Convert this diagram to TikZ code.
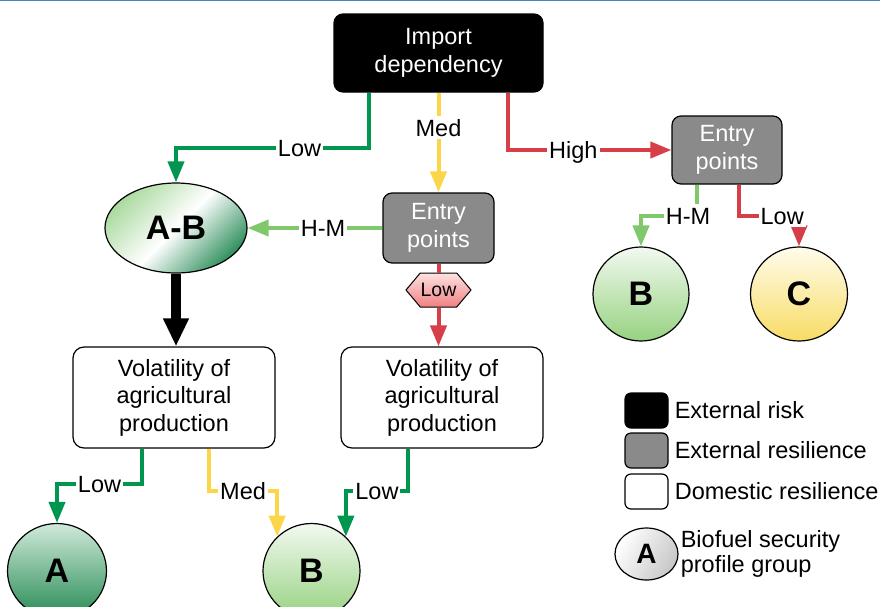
\documentclass[tikz,border=0pt]{standalone}
\usepackage{fontspec}
\setmainfont{Liberation Sans}
\usetikzlibrary{calc,positioning,arrows.meta,shapes.geometric,shapes.symbols}
\definecolor{lowgreen}{RGB}{0,150,80}
\definecolor{hmgreen}{RGB}{128,200,108}
\definecolor{medyellow}{RGB}{250,214,72}
\definecolor{highred}{RGB}{214,62,72}
\definecolor{boxgray}{RGB}{138,138,138}
\definecolor{topblue}{RGB}{74,132,198}
\definecolor{abtop}{RGB}{172,218,160}
\definecolor{abbot}{RGB}{50,145,95}
\definecolor{gatop}{RGB}{208,234,218}
\definecolor{gabot}{RGB}{38,138,84}
\definecolor{gbtop}{RGB}{242,249,240}
\definecolor{gbbot}{RGB}{150,210,128}
\definecolor{gctop}{RGB}{255,252,236}
\definecolor{gcbot}{RGB}{248,220,100}
\definecolor{hextop}{RGB}{253,226,226}
\definecolor{hexbot}{RGB}{240,128,128}
\tikzset{
  conn/.style={line width=4pt, -{Triangle[length=21pt,width=16pt]}},
  lbl/.style={fill=white, text=black, inner xsep=2pt, inner ysep=3pt, text height=17pt, text depth=0pt},
  darkbox/.style={draw=black, line width=1.2pt, rounded corners=9pt, fill=black, text=white, align=center, inner sep=0pt},
  greybox/.style={darkbox, fill=boxgray, minimum width=111, minimum height=70},
  volbox/.style={draw=black, line width=1.2pt, rounded corners=11pt, fill=white, align=center, inner sep=0pt, minimum width=202, minimum height=101},
  group/.style={ellipse, draw=black, line width=1.2pt, inner sep=0pt, font=\fontsize{34}{34}\selectfont\bfseries},
  keybox/.style={darkbox, rounded corners=6pt, minimum width=43, minimum height=35},
  keytext/.style={inner sep=0pt, anchor=west},
}

\begin{document}
\begin{tikzpicture}[x=1pt, y=-1pt, font=\fontsize{23.5}{27.5}\selectfont]
	\useasboundingbox (0,0) rectangle (880,606);
	\clip (0,0) rectangle (880,606);
	\draw[topblue, line width=2pt] (0,0) -- (880,0);
	
	% boxes
	\node[darkbox, minimum width=209, minimum height=78] (imp) at (438.5,53) {Import\\dependency};
	\node[greybox] (ep1) at (438.5,228) {Entry\\points};
	\node[greybox, minimum width=110, minimum height=68] (ep2) at (727,150) {Entry\\points};
	\node[signal, signal to=east and west, signal pointer angle=100, draw=black, line width=1pt,
		top color=hextop, bottom color=hexbot, minimum width=65, minimum height=34, inner sep=0pt,
		font=\fontsize{19.5}{20}\selectfont] (hex) at (438.5,290) {Low};
	\node[volbox] (vol1) at (174,397.5) {Volatility of\\agricultural\\production};
	\node[volbox] (vol2) at (442,397.5) {Volatility of\\agricultural\\production};
	
	% profile groups
	\node[group, minimum width=142, minimum height=90, top color=abtop, bottom color=abbot,
		middle color=white, shading angle=45] (ab) at (176,228) {A-B};
	\node[group, minimum width=99, minimum height=95, top color=gatop, bottom color=gabot] (ga) at (57,571) {A};
	\node[group, minimum width=97, minimum height=95, top color=gbtop, bottom color=gbbot] (gb) at (311.5,571) {B};
	\node[group, minimum width=96, minimum height=94, top color=gbtop, bottom color=gbbot] (gb2) at (641,294) {B};
	\node[group, minimum width=97, minimum height=94, top color=gctop, bottom color=gcbot] (gc) at (799,294) {C};
	
	% connectors
	\draw[conn, lowgreen] ($(imp.south)+(-69.5,0)$) -- ++(0,55) -| node[lbl, pos=0.18] {Low} (ab.north);
	\draw[conn, medyellow] (imp.south) -- node[lbl, pos=0.35] {Med} (ep1.north);
	\draw[conn, highred] ($(imp.south)+(69.5,0)$) |- node[lbl, pos=0.7] {High} (ep2.west);
	\draw[conn, hmgreen] (ep1.west) -- node[lbl, pos=0.44] {H-M} (ab.east);
	\draw[highred, line width=4pt] (ep1.south) -- (hex.north);
	\draw[conn, highred] (hex.south) -- (hex.south |- vol2.north);
	\draw[line width=10pt, -{Triangle[length=28pt,width=24pt]}] (ab.south) -- (ab.south |- vol1.north);
	\draw[conn, lowgreen] ($(vol1.south)+(-32,0)$) -- ++(0,35) -| node[lbl, pos=0.25] {Low} (ga.north);
	\draw[conn, medyellow] ($(vol1.south)+(35,0)$) -- ++(0,42) -| node[lbl, pos=0.25] {Med} (gb.135);
	\draw[conn, lowgreen] ($(vol2.south)+(-34,0)$) -- ++(0,42) -| node[lbl, pos=0.25] {Low} (gb.45);
	\draw[conn, hmgreen] ($(ep2.south)+(-30,0)$) -- ++(0,31) -| node[lbl, pos=0.08] {H-M} (gb2.north);
	\draw[conn, highred] ($(ep2.south)+(12,0)$) -- ++(0,31) -| node[lbl, pos=0.36] {Low} (gc.north);
	
	% legend
	\node[keybox] (krisk) at (646.5,410.5) {};
	\node[keybox, fill=boxgray] (kext) at (646.5,450.5) {};
	\node[keybox, fill=white] (kdom) at (646.5,491.5) {};
	\node[keytext, right=6pt of krisk] (trisk) {External risk};
	\node[keytext, right=6pt of kext] (text) {External resilience};
	\node[keytext, right=6pt of kdom] (tdom) {Domestic resilience};
	\node[group, minimum width=63, minimum height=52, font=\fontsize{28}{28}\selectfont\bfseries,
		top color=white, bottom color=black!22, shading angle=60] (kgrp) at (646.5,554) {A};
	\node[keytext, align=left, right=2pt of kgrp, font=\fontsize{23.5}{25}\selectfont] (tgrp) {Biofuel security\\profile group};
\end{tikzpicture}
\end{document}
